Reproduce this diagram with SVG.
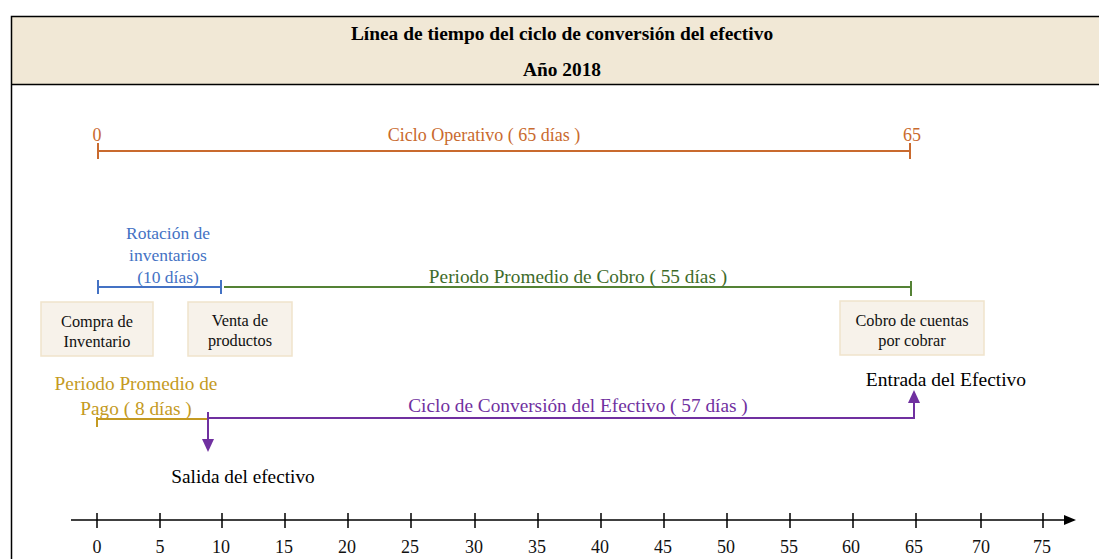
<svg xmlns="http://www.w3.org/2000/svg" width="1099" height="559" viewBox="0 0 1099 559">
<style>
text{font-family:"Liberation Serif","Times New Roman",serif;text-anchor:middle}
.t{font-weight:bold;font-size:19.4px;fill:#000}
.box{fill:#F7F2EA;stroke:#F0E3CB;stroke-width:1.5}
.bt{font-size:16.3px;fill:#111}
.ax{font-size:18px;fill:#111}
.or{stroke:#C96A2E;stroke-width:2;fill:none}
.bl{stroke:#4472C4;stroke-width:2;fill:none}
.gr{stroke:#548235;stroke-width:2;fill:none}
.go{stroke:#C49A22;stroke-width:2;fill:none}
.pu{stroke:#7030A0;stroke-width:2;fill:none}
.k{stroke:#000;stroke-width:1.5;fill:none}
</style>
<defs>
<marker id="ak" markerWidth="12" markerHeight="10" refX="10" refY="5" orient="auto" markerUnits="userSpaceOnUse"><path d="M0,0 L12,5 L0,10 z" fill="#000"/></marker>
</defs>
<rect x="0" y="0" width="1099" height="559" fill="#fff"/>
<g id="frame">
<rect x="11.5" y="16.5" width="1100" height="68" fill="#F1E8D6"/>
<path d="M1099,16.5 H11.5 V559 M11.5,84.5 H1099" stroke="#000" stroke-width="1.5" fill="none"/>
<text class="t" x="562" y="40">Línea de tiempo del ciclo de conversión del efectivo</text>
<text class="t" x="562" y="76">Año 2018</text>
</g>
<g id="connectors">
<path class="or" d="M98,151 H910 M98,143 V159 M910,143 V159"/>
<path class="bl" d="M98,287 H221 M98,280 V294 M221,280 V294"/>
<path class="gr" d="M224,287 H911 M911,281 V296"/>
<path class="go" d="M97,419 H208 M97,417 V427"/>
<path class="pu" d="M208,418 H914 V402 M208,412 V441"/>
<path d="M202,439 L208,452 L214,439 z" fill="#7030A0"/>
<path d="M908,403 L914,390 L920,403 z" fill="#7030A0"/>
<path class="k" d="M71,520 H1074" marker-end="url(#ak)"/>
<path class="k" d="M97,513 V528 M160,513 V528 M222,513 V528 M285,513 V528 M348,513 V528 M411,513 V528 M475,513 V528 M538,513 V528 M601,513 V528 M664,513 V528 M727,513 V528 M790,513 V528 M853,513 V528 M916,513 V528 M981,513 V528 M1043,513 V528"/>
</g>
<g id="labels">
<text x="97" y="141" font-size="18" fill="#C96A2E">0</text>
<text x="912" y="141" font-size="18" fill="#C96A2E">65</text>
<text x="484" y="141" font-size="18" fill="#C96A2E">Ciclo Operativo ( 65 días )</text>
<text x="168" y="239" font-size="17.5" fill="#4472C4">Rotación de</text>
<text x="168" y="261" font-size="17.5" fill="#4472C4">inventarios</text>
<text x="168" y="283" font-size="17.5" fill="#4472C4">(10 días)</text>
<text x="578" y="283" font-size="19.3" fill="#3E6B2A">Periodo Promedio de Cobro ( 55 días )</text>
<text x="136" y="390" font-size="19.3" fill="#C49A22">Periodo Promedio de</text>
<text x="136" y="415" font-size="19.3" fill="#C49A22">Pago ( 8 días )</text>
<text x="578" y="412" font-size="19.3" fill="#7030A0">Ciclo de Conversión del Efectivo ( 57 días )</text>
<text x="946" y="386" font-size="19.5" fill="#000">Entrada del Efectivo</text>
<text x="243" y="483" font-size="19.3" fill="#000">Salida del efectivo</text>
</g>
<g id="node-compra">
<rect class="box" x="41" y="302" width="112" height="54"/>
<text class="bt" x="97" y="327">Compra de</text>
<text class="bt" x="97" y="347">Inventario</text>
</g>
<g id="node-venta">
<rect class="box" x="188" y="302" width="104" height="54"/>
<text class="bt" x="240" y="326">Venta de</text>
<text class="bt" x="240" y="346">productos</text>
</g>
<g id="node-cobro">
<rect class="box" x="840" y="301" width="144" height="54"/>
<text class="bt" x="912" y="326">Cobro de cuentas</text>
<text class="bt" x="912" y="346">por cobrar</text>
</g>
<g id="axis-labels">
<text class="ax" x="97" y="553">0</text>
<text class="ax" x="160" y="553">5</text>
<text class="ax" x="221" y="553">10</text>
<text class="ax" x="284" y="553">15</text>
<text class="ax" x="347" y="553">20</text>
<text class="ax" x="410" y="553">25</text>
<text class="ax" x="474" y="553">30</text>
<text class="ax" x="537" y="553">35</text>
<text class="ax" x="600" y="553">40</text>
<text class="ax" x="663" y="553">45</text>
<text class="ax" x="726" y="553">50</text>
<text class="ax" x="789" y="553">55</text>
<text class="ax" x="851" y="553">60</text>
<text class="ax" x="914" y="553">65</text>
<text class="ax" x="981" y="553">70</text>
<text class="ax" x="1042" y="553">75</text>
</g>
</svg>
